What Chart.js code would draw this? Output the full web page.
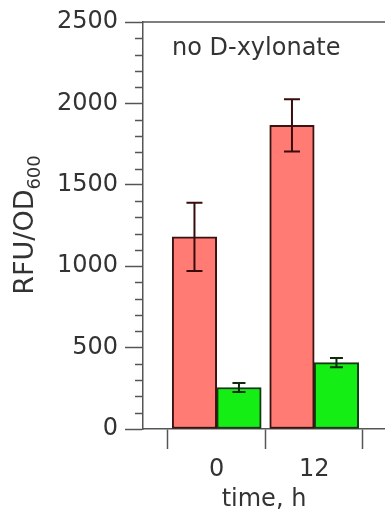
<!DOCTYPE html>
<html>
<head>
<meta charset="utf-8">
<script src="https://cdn.jsdelivr.net/npm/chart.js@4.4.1/dist/chart.umd.min.js"></script>
<style>
  html, body { margin: 0; padding: 0; background: #fff; }
  canvas { display: block; }
</style>
</head>
<body>
<canvas id="chart" width="385" height="522"></canvas>
<script>
// time points and where they sit on the x axis
const hours = ['0', '12'];
const xPos = [0, 1];
// RFU/OD600 means and error bars
const redMean = [1180, 1865];
const redErr = [210, 160];
const greenMean = [255, 408];
const greenErr = [28, 28];
// y axis ticks
const yMin = 0;
const yMax = 2500;
const yStep = 100;
const yLabelStep = 500;
// x ticks between the groups
const xBounds = [-0.5, 0.5, 1.5];

const axisColor = '#555';
const textColor = '#333';

Chart.defaults.font.family = 'DejaVu Sans';
Chart.defaults.font.size = 24;
Chart.defaults.color = textColor;

function points(means) {
    return means.map((m, i) => ({ x: xPos[i], y: m }));
}

const extras = {
    id: 'extras',
    afterDatasetsDraw(chart) {
        const ctx = chart.ctx;
        const y = chart.scales.y;
        chart.data.datasets.forEach((ds, d) => {
            const meta = chart.getDatasetMeta(d);
            ctx.save();
            ctx.strokeStyle = ds.errColor;
            ctx.lineWidth = 2;
            meta.data.forEach((bar, i) => {
                const m = ds.data[i].y;
                const e = ds.errors[i];
                const top = y.getPixelForValue(m + e);
                const bot = y.getPixelForValue(m - e);
                const w = ds.capWidth / 2;
                ctx.beginPath();
                ctx.moveTo(bar.x, top); ctx.lineTo(bar.x, bot);
                ctx.moveTo(bar.x - w, top); ctx.lineTo(bar.x + w, top);
                ctx.moveTo(bar.x - w, bot); ctx.lineTo(bar.x + w, bot);
                ctx.stroke();
            });
            ctx.restore();
        });
    },
    afterDraw(chart) {
        const ctx = chart.ctx;
        const area = chart.chartArea;
        const y = chart.scales.y;
        ctx.save();
        // minor ticks
        ctx.strokeStyle = axisColor;
        ctx.lineWidth = 1.5;
        ctx.beginPath();
        for (let v = yMin; v <= yMax; v += yStep) {
            if (v % yLabelStep === 0) continue;
            const py = Math.round(y.getPixelForValue(v)) + 0.5;
            ctx.moveTo(area.left - 8, py);
            ctx.lineTo(area.left, py);
        }
        // top frame line
        ctx.moveTo(area.left, area.top);
        ctx.lineTo(area.right, area.top);
        ctx.stroke();

        // panel label
        ctx.fillStyle = textColor;
        ctx.font = '24px "DejaVu Sans"';
        ctx.textBaseline = 'alphabetic';
        ctx.textAlign = 'left';
        ctx.fillText('no D-xylonate', 172, 55);

        // y title with subscript
        const main = 'RFU/OD';
        const sub = '600';
        ctx.font = '27px "DejaVu Sans"';
        const wMain = ctx.measureText(main).width;
        ctx.font = '18px "DejaVu Sans"';
        const wSub = ctx.measureText(sub).width;
        const centerY = 225;
        ctx.translate(33, centerY + (wMain + wSub) / 2);
        ctx.rotate(-Math.PI / 2);
        ctx.font = '27px "DejaVu Sans"';
        ctx.fillText(main, 0, 0);
        ctx.font = '18px "DejaVu Sans"';
        ctx.fillText(sub, wMain, 7);
        ctx.restore();
    }
};

new Chart(document.getElementById('chart'), {
    type: 'bar',
    data: {
        datasets: [{
            label: 'red',
            data: points(redMean),
            errors: redErr,
            backgroundColor: '#ff7b73',
            borderColor: '#3a1212',
            errColor: '#3a0c0c',
            capWidth: 16,
            borderWidth: 2,
            borderSkipped: false,
            barThickness: 44.5
        }, {
            label: 'green',
            data: points(greenMean),
            errors: greenErr,
            backgroundColor: '#14ee14',
            borderColor: '#143a14',
            errColor: '#102a10',
            capWidth: 13,
            borderWidth: 2,
            borderSkipped: false,
            barThickness: 44.5
        }]
    },
    options: {
        responsive: false,
        animation: false,
        devicePixelRatio: 1,
        layout: { padding: { top: 22, right: 0, bottom: 0, left: 0 } },
        plugins: {
            legend: { display: false },
            tooltip: { enabled: false }
        },
        scales: {
            x: {
                type: 'linear',
                offset: false,
                min: -0.756,
                max: 1.726,
                afterBuildTicks: scale => {
                    scale.ticks = xBounds.concat(xPos).sort((a, b) => a - b).map(v => ({ value: v }));
                },
                afterFit: scale => { scale.height = 93; },
                ticks: {
                    autoSkip: false,
                    maxRotation: 0,
                    padding: 6,
                    color: textColor,
                    callback: v => {
                        const i = xPos.indexOf(v);
                        return i >= 0 ? hours[i] : '';
                    }
                },
                grid: {
                    offset: false,
                    drawOnChartArea: false,
                    tickLength: 20,
                    tickWidth: 1.5,
                    tickColor: ctx => (ctx.tick && xPos.includes(ctx.tick.value)) ? 'transparent' : axisColor
                },
                border: { color: axisColor, width: 1.5 },
                title: {
                    display: true,
                    text: 'time, h',
                    color: textColor,
                    padding: { top: 0, bottom: 8 }
                }
            },
            y: {
                min: yMin,
                max: yMax,
                afterFit: scale => { scale.width = 143; },
                ticks: {
                    stepSize: yStep,
                    maxTicksLimit: 100,
                    autoSkip: false,
                    padding: 7,
                    color: textColor,
                    callback: v => (v % yLabelStep === 0 ? v : '')
                },
                grid: {
                    drawOnChartArea: false,
                    tickLength: 18,
                    tickWidth: 1.5,
                    tickColor: ctx => (ctx.tick && ctx.tick.value % yLabelStep === 0) ? axisColor : 'transparent'
                },
                border: { color: axisColor, width: 1.5 }
            }
        }
    },
    plugins: [extras]
});
</script>
</body>
</html>
